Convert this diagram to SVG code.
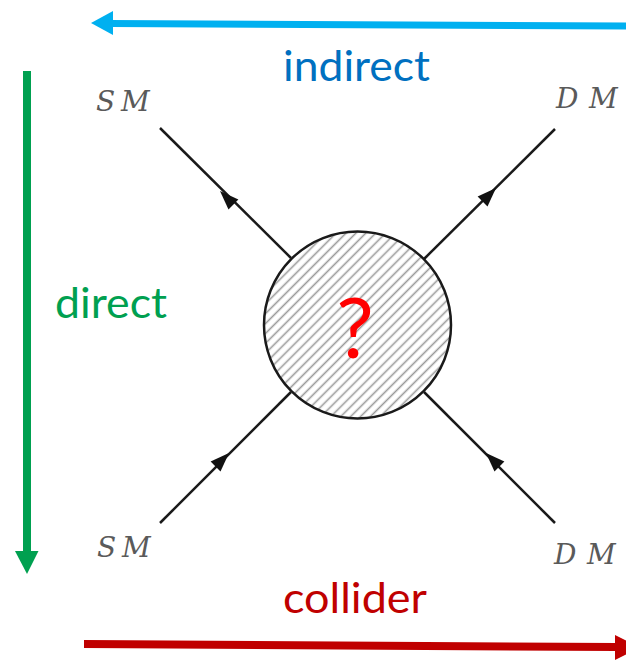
<svg xmlns="http://www.w3.org/2000/svg" width="626" height="661" viewBox="0 0 626 661">
  <style>
    .lbl { font-family: Lato, "Open Sans", sans-serif; font-size: 42px; }
    .math { font-family: "DejaVu Serif", "Liberation Serif", serif; font-style: italic; font-size: 28px; fill: #5a5a5a; }
    .prop { stroke: #1a1a1a; stroke-width: 2.5; fill: none; }
    .ah { fill: #111; }
  </style>
  <defs>
    <pattern id="hatch" patternUnits="userSpaceOnUse" width="7" height="7" patternTransform="rotate(45)">
      <rect width="7" height="7" fill="#ffffff"/>
      <line x1="3.5" y1="0" x2="3.5" y2="7" stroke="#9a9a9a" stroke-width="1.6"/>
    </pattern>
  </defs>
  <rect width="626" height="661" fill="#ffffff"/>

  <g id="connectors">
    <!-- blue indirect arrow -->
    <line x1="626" y1="26" x2="110" y2="23.5" stroke="#00B0F0" stroke-width="7"/>
    <polygon points="91,23 113,11 113,35" fill="#00B0F0"/>
    <!-- green direct arrow -->
    <line x1="27" y1="71" x2="27" y2="553" stroke="#00A050" stroke-width="8"/>
    <polygon points="15,551 38.5,551 27,574" fill="#00A050"/>
    <!-- red collider arrow -->
    <line x1="84" y1="644" x2="617" y2="647" stroke="#C00000" stroke-width="8"/>
    <polygon points="615,635 615,660 640,647.5" fill="#C00000"/>

    <!-- propagators -->
    <line class="prop" x1="160" y1="128" x2="291" y2="258"/>
    <line class="prop" x1="555" y1="129" x2="424" y2="259"/>
    <line class="prop" x1="160" y1="523" x2="291" y2="392"/>
    <line class="prop" x1="555" y1="523" x2="424" y2="392"/>
    <!-- arrowheads -->
    <polygon class="ah" points="0,0 19,-7 19,7" transform="translate(220,191) rotate(45)"/>
    <polygon class="ah" points="0,0 19,-7 19,7" transform="translate(496,188) rotate(135)"/>
    <polygon class="ah" points="0,0 19,-7 19,7" transform="translate(229,453) rotate(135)"/>
    <polygon class="ah" points="0,0 19,-7 19,7" transform="translate(486,453) rotate(45)"/>
  </g>

  <g id="blob">
    <circle cx="357.5" cy="325" r="93.5" fill="url(#hatch)" stroke="#1a1a1a" stroke-width="2.5"/>
    <text x="355" y="358" text-anchor="middle" font-family="Lato, 'Open Sans', sans-serif" font-size="84" fill="#FF0000">?</text>
  </g>

  <g id="sm-top"><text class="math" x="96 121" y="111">SM</text></g>
  <g id="dm-top"><text class="math" x="556 589" y="108">DM</text></g>
  <g id="sm-bottom"><text class="math" x="97 122" y="557">SM</text></g>
  <g id="dm-bottom"><text class="math" x="554 587" y="564">DM</text></g>

  <g id="label-indirect"><text class="lbl" x="283" y="81" fill="#0070C0" textLength="147" lengthAdjust="spacingAndGlyphs">indirect</text></g>
  <g id="label-direct"><text class="lbl" x="55" y="318" fill="#00A050" textLength="112" lengthAdjust="spacingAndGlyphs">direct</text></g>
  <g id="label-collider"><text class="lbl" x="283" y="613" fill="#C00000" textLength="144" lengthAdjust="spacingAndGlyphs">collider</text></g>
</svg>
